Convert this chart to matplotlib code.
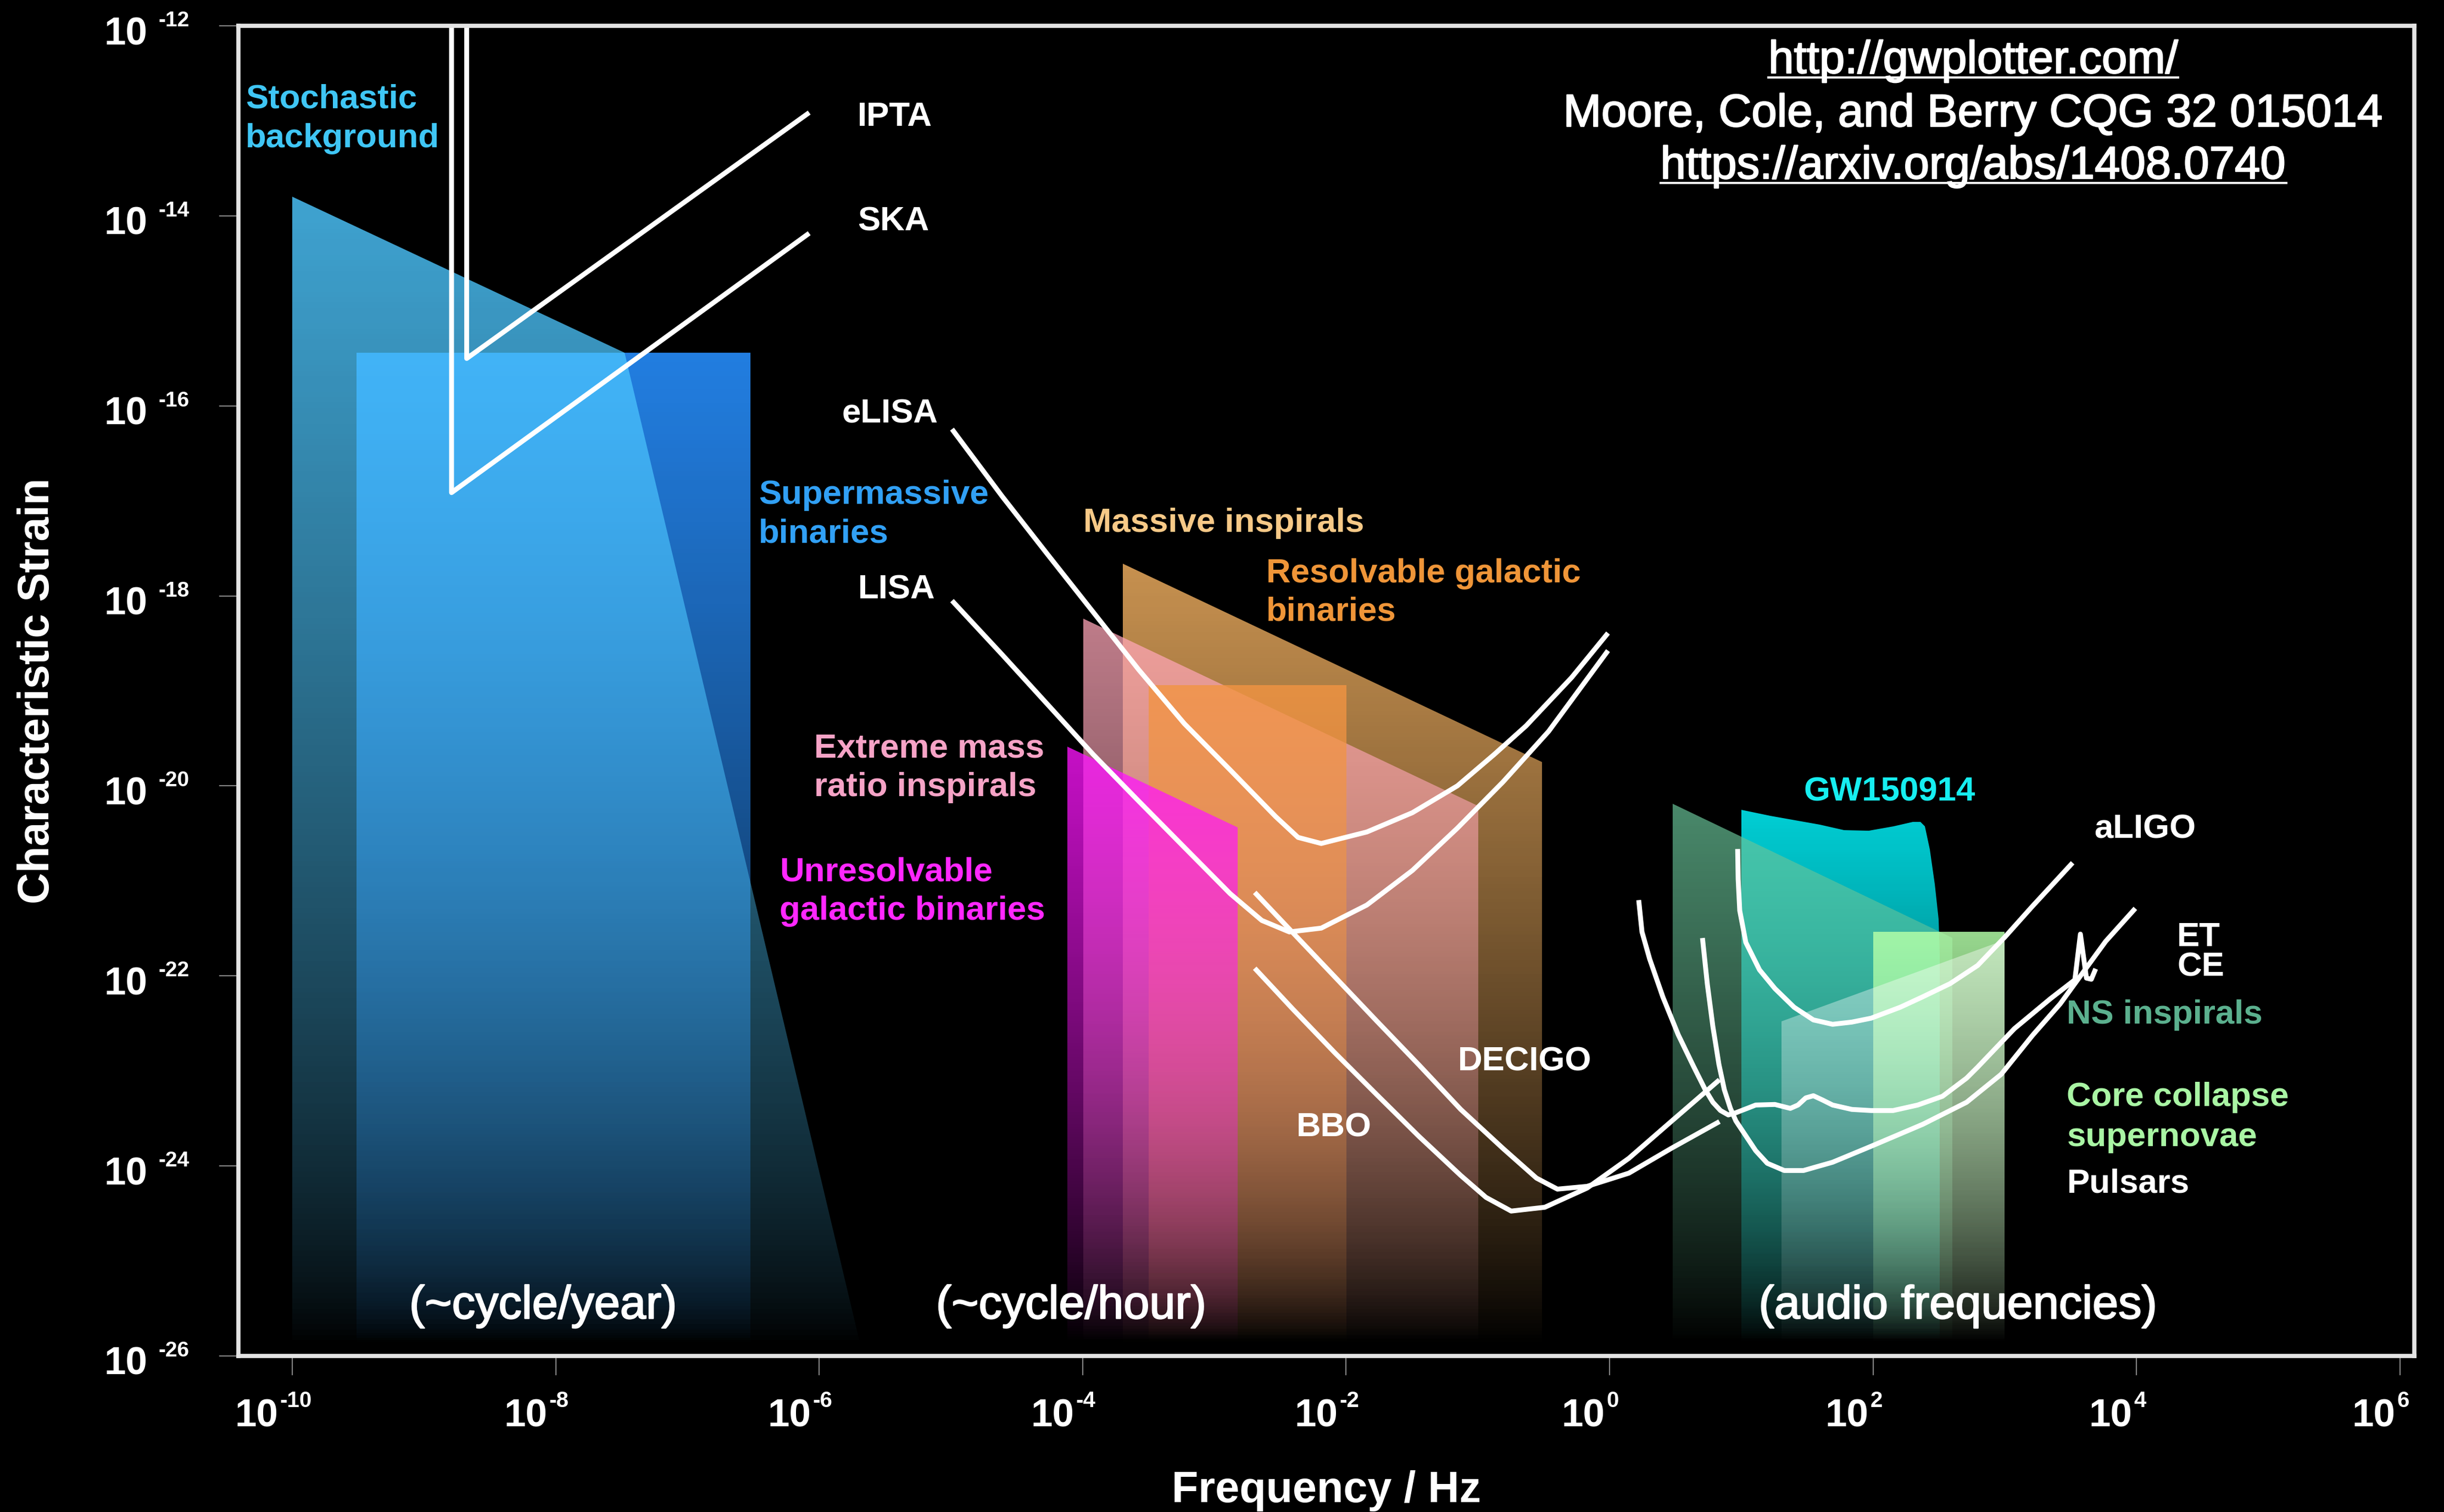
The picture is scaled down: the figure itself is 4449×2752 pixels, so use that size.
import numpy as np
import matplotlib
matplotlib.use("Agg")
import matplotlib.pyplot as plt
import matplotlib.patheffects as pe
from matplotlib.patches import Polygon
from matplotlib.colors import LinearSegmentedColormap
from matplotlib.lines import Line2D
from matplotlib.ticker import NullLocator

plt.rcParams["font.family"] = ["Liberation Sans", "DejaVu Sans"]

# ------------------------------------------------------------------
# Axis decades (log10 of frequency in Hz / characteristic strain)
# ------------------------------------------------------------------
xtick_exp = [-10, -8, -6, -4, -2, 0, 2, 4, 6]
ytick_exp = [-12, -14, -16, -18, -20, -22, -24, -26]
xlim_exp = (-10.409, 6.109)
ylim_exp = (-26.0, -12.0)
H_FLOOR = -25.85

# ------------------------------------------------------------------
# Source regions: outline vertices as (log10 f, log10 h_c)
# ------------------------------------------------------------------
stoch_logf = [-10.0, -10.0, -7.477, -5.667]
stoch_logh = [-26.0, -13.80, -15.441, -26.0]
smbh_logf = [-9.514, -9.514, -6.522, -6.522]
smbh_logh = [-26.0, -15.441, -15.441, -26.0]
massive_logf = [-3.695, -3.695, -0.513, -0.513]
massive_logh = [-26.0, -17.662, -19.750, -26.0]
emri_logf = [-3.995, -3.995, -0.997, -0.997]
emri_logh = [-26.0, -18.241, -20.213, -26.0]
resolv_logf = [-3.499, -3.499, -1.998, -1.998]
resolv_logh = [-26.0, -18.940, -18.940, -26.0]
unres_logf = [-4.116, -4.116, -2.823, -2.823]
unres_logh = [-26.0, -19.588, -20.438, -26.0]
gw150914_logf = [1.0, 1.0, 1.223, 1.595, 1.781, 1.968, 2.154, 2.302, 2.358,
                 2.395, 2.433, 2.470, 2.498, 2.507, 2.507]
gw150914_logh = [-26.0, -20.253, -20.317, -20.409, -20.467, -20.473, -20.427,
                 -20.380, -20.380, -20.427, -20.670, -21.034, -21.404, -21.774, -26.0]
ns_logf = [0.478, 0.478, 2.600, 2.600]
ns_logh = [-26.0, -20.189, -21.598, -26.0]
sn_logf = [2.0, 2.0, 3.0, 3.0]
sn_logh = [-26.0, -21.535, -21.535, -26.0]
pulsar_logf = [1.307, 1.307, 3.0, 3.0]
pulsar_logh = [-26.0, -22.476, -21.620, -26.0]

# ------------------------------------------------------------------
# Detector sensitivity curves (log10 f, log10 h_c)
# ------------------------------------------------------------------
ipta_logf = [-8.676, -8.676, -6.076]
ipta_logh = [-11.0, -15.501, -12.913]
ska_logf = [-8.791, -8.791, -6.076]
ska_logh = [-11.0, -16.913, -14.183]

elisa_logf = [-4.992, -4.612, -4.266, -3.920, -3.574, -3.228, -2.881, -2.535,
              -2.365, -2.189, -1.843, -1.497, -1.155, -0.876, -0.634, -0.288, -0.012]
elisa_logh = [-16.245, -16.951, -17.564, -18.171, -18.778, -19.345, -19.831, -20.323,
              -20.542, -20.606, -20.485, -20.282, -19.999, -19.669, -19.368, -18.859, -18.391]

lisa_logf = [-4.992, -4.612, -4.266, -3.920, -3.574, -3.228, -2.881, -2.640,
             -2.431, -2.189, -1.843, -1.497, -1.155, -0.809, -0.463, -0.012]
lisa_logh = [-18.050, -18.617, -19.143, -19.669, -20.161, -20.647, -21.133, -21.416,
             -21.537, -21.497, -21.254, -20.890, -20.444, -19.958, -19.426, -18.576]

bbo_logf = [-2.694, -2.406, -2.085, -1.768, -1.447, -1.130, -0.938, -0.747,
            -0.492, -0.171, 0.146, 0.467, 0.834]
bbo_logh = [-21.919, -22.347, -22.810, -23.249, -23.689, -24.100, -24.331, -24.475,
            -24.435, -24.233, -23.920, -23.533, -23.093]

decigo_logf = [-2.694, -2.406, -2.085, -1.768, -1.447, -1.130, -0.809, -0.555,
               -0.396, -0.171, 0.146, 0.467, 0.834]
decigo_logh = [-21.121, -21.543, -22.011, -22.474, -22.937, -23.405, -23.816, -24.128,
               -24.244, -24.215, -24.076, -23.816, -23.533]

aligo_logf = [0.972, 0.976, 0.988, 1.034, 1.138, 1.255, 1.401, 1.547, 1.693,
              1.839, 1.985, 2.206, 2.377, 2.585, 2.794, 3.002, 3.211, 3.515]
aligo_logh = [-20.664, -20.982, -21.312, -21.647, -21.936, -22.133, -22.330, -22.463,
              -22.509, -22.486, -22.445, -22.330, -22.220, -22.081, -21.890, -21.589,
              -21.265, -20.809]

et_logf = [0.221, 0.246, 0.304, 0.404, 0.521, 0.638, 0.726, 0.784, 0.842, 0.901,
           0.959, 1.109, 1.255, 1.372, 1.430, 1.489, 1.547, 1.618, 1.693, 1.839,
           1.985, 2.152, 2.339, 2.527, 2.710, 2.794, 3.073, 3.349, 3.532, 3.574,
           3.620, 3.657, 3.690]
et_logh = [-21.202, -21.537, -21.821, -22.220, -22.619, -22.954, -23.197, -23.330,
           -23.417, -23.463, -23.440, -23.359, -23.353, -23.394, -23.359, -23.284,
           -23.261, -23.307, -23.359, -23.405, -23.417, -23.417, -23.359, -23.267,
           -23.076, -22.960, -22.555, -22.237, -22.041, -21.560, -22.023, -22.035,
           -21.925]

ce_logf = [0.705, 0.742, 0.784, 0.830, 0.871, 0.917, 0.959, 1.034, 1.109, 1.197,
           1.326, 1.472, 1.693, 1.985, 2.377, 2.710, 2.973, 3.211, 3.420, 3.553,
           3.766, 3.991]
ce_logh = [-21.601, -22.087, -22.532, -22.931, -23.197, -23.394, -23.527, -23.683,
           -23.839, -23.972, -24.048, -24.048, -23.961, -23.793, -23.562, -23.330,
           -23.035, -22.625, -22.295, -22.041, -21.636, -21.289]

# ------------------------------------------------------------------
# Figure
# ------------------------------------------------------------------
DPI = 100
W_PX, H_PX = 4449, 2752
PT = 72.0 / DPI
fig = plt.figure(figsize=(W_PX / DPI, H_PX / DPI), dpi=DPI, facecolor="black")
ax = fig.add_axes([0.09755, 0.10320, 0.89031, 0.87972])
ax.set_facecolor("black")
ax.set_xscale("log")
ax.set_yscale("log")


def gradient_region(logf, logh, rgb, alpha, z, nbands=220, gamma=0.8):
    """Filled outline whose opacity fades towards the strain floor."""
    f = 10.0 ** np.asarray(logf)
    h = 10.0 ** np.asarray(logh)
    poly = Polygon(np.column_stack([f, h]), closed=True, facecolor="none",
                   edgecolor="none", zorder=z)
    ax.add_patch(poly)
    top = max(logh)
    yedges = np.logspace(min(logh), top, nbands + 1)
    mids = 0.5 * (np.log10(yedges[:-1]) + np.log10(yedges[1:]))
    frac = np.clip((mids - H_FLOOR) / (top - H_FLOOR), 0, 1) ** gamma
    xedges = np.array([f.min(), f.max()])
    cmap = LinearSegmentedColormap.from_list("fade", [(*rgb, 0.0), (*rgb, alpha)])
    mesh = ax.pcolormesh(xedges, yedges, frac[:, None], cmap=cmap, vmin=0, vmax=1,
                         shading="flat", zorder=z, antialiased=False)
    mesh.set_clip_path(poly)


# pulsar-timing band
gradient_region(smbh_logf, smbh_logh, (0.14, 0.52, 0.93), 0.95, 1.00, gamma=0.7)
gradient_region(stoch_logf, stoch_logh, (0.30, 0.78, 1.00), 0.82, 1.01, gamma=0.7)
# space-interferometer band
gradient_region(massive_logf, massive_logh, (0.92, 0.67, 0.37), 0.85, 1.02)
gradient_region(emri_logf, emri_logh, (1.00, 0.65, 0.72), 0.75, 1.03)
gradient_region(resolv_logf, resolv_logh, (0.95, 0.58, 0.26), 0.80, 1.04)
gradient_region(unres_logf, unres_logh, (1.00, 0.08, 1.00), 0.78, 1.05)
# ground-based band
gradient_region(gw150914_logf, gw150914_logh, (0.00, 0.90, 0.93), 0.90, 1.02)
gradient_region(ns_logf, ns_logh, (0.41, 0.77, 0.60), 0.70, 1.03)
gradient_region(sn_logf, sn_logh, (0.70, 1.00, 0.66), 0.85, 1.04)
gradient_region(pulsar_logf, pulsar_logh, (1.00, 1.00, 1.00), 0.42, 1.05)


def curve(logf, logh, lw=6.4):
    ax.plot(10.0 ** np.asarray(logf), 10.0 ** np.asarray(logh), color="white",
            lw=lw, solid_joinstyle="round", solid_capstyle="butt", zorder=5)


for lf, lh in [(ipta_logf, ipta_logh), (ska_logf, ska_logh),
               (elisa_logf, elisa_logh), (lisa_logf, lisa_logh),
               (bbo_logf, bbo_logh), (decigo_logf, decigo_logh),
               (aligo_logf, aligo_logh), (et_logf, et_logh), (ce_logf, ce_logh)]:
    curve(lf, lh)

# ------------------------------------------------------------------
# Axes styling
# ------------------------------------------------------------------
ax.set_xlim(10.0 ** xlim_exp[0], 10.0 ** xlim_exp[1])
ax.set_ylim(10.0 ** ylim_exp[0], 10.0 ** ylim_exp[1])
ax.set_xticks([10.0 ** e for e in xtick_exp])
ax.set_yticks([10.0 ** e for e in ytick_exp])
ax.xaxis.set_minor_locator(NullLocator())
ax.yaxis.set_minor_locator(NullLocator())
ax.tick_params(which="major", direction="out", length=25, width=1.4,
               color="#8a8a8a", labelbottom=False, labelleft=False)
for sp in ax.spines.values():
    sp.set_color("#e4e4e4")
    sp.set_linewidth(5.5)
    sp.set_zorder(8)

renderer = fig.canvas.get_renderer()


def text_width_px(s, size, weight):
    t = fig.text(0, 0, s, fontsize=size, fontweight=weight)
    w = t.get_window_extent(renderer).width
    t.remove()
    return w


TICK_BASE = 51
TICK_EXP_X = 29
TICK_EXP_Y = 28
w10 = text_width_px("10", TICK_BASE, "bold")
for e in xtick_exp:
    es = str(e)
    we = text_width_px(es, TICK_EXP_X, "bold")
    gap = 3
    left = -35 - (w10 + gap + we) / 2
    ax.annotate("10", xy=(10.0 ** e, 0), xycoords=("data", "axes fraction"),
                xytext=(left * PT, -129 * PT), textcoords="offset points",
                ha="left", va="baseline", fontsize=TICK_BASE, fontweight="bold",
                color="white", annotation_clip=False)
    ax.annotate(es, xy=(10.0 ** e, 0), xycoords=("data", "axes fraction"),
                xytext=((left + w10 + gap) * PT, -93 * PT), textcoords="offset points",
                ha="left", va="baseline", fontsize=TICK_EXP_X, fontweight="bold",
                color="white", annotation_clip=False)

for e in ytick_exp:
    ax.annotate("10", xy=(0, 10.0 ** e), xycoords=("axes fraction", "data"),
                xytext=(-244 * PT, -34 * PT), textcoords="offset points",
                ha="left", va="baseline", fontsize=TICK_BASE, fontweight="bold",
                color="white", annotation_clip=False)
    ax.annotate(str(e), xy=(0, 10.0 ** e), xycoords=("axes fraction", "data"),
                xytext=(-145 * PT, -1 * PT), textcoords="offset points",
                ha="left", va="baseline", fontsize=TICK_EXP_Y, fontweight="bold",
                color="white", annotation_clip=False)

ax.text(-0.0924, 0.5, "Characteristic Strain", transform=ax.transAxes,
        rotation=90, ha="center", va="center", rotation_mode="anchor",
        fontsize=57, fontweight="bold", color="white")
ax.text(0.5, -0.1099, "Frequency / Hz", transform=ax.transAxes, ha="center",
        va="baseline", fontsize=57, fontweight="bold", color="white")

# ------------------------------------------------------------------
# Region and detector labels
# ------------------------------------------------------------------
LBL = 44.5


def label(logf, logh, s, color):
    ax.text(10.0 ** logf, 10.0 ** logh, s, color=color, fontsize=LBL,
            fontweight="bold", ha="left", va="baseline", zorder=4)


label(-10.355, -12.866, "Stochastic", "#3fc6f5")
label(-10.355, -13.280, "background", "#3fc6f5")
label(-5.710, -13.050, "IPTA", "white")
label(-5.710, -14.156, "SKA", "white")
label(-5.827, -16.180, "eLISA", "white")
label(-5.705, -18.031, "LISA", "white")
label(-6.459, -17.030, "Supermassive", "#31a0f5")
label(-6.459, -17.438, "binaries", "#31a0f5")
label(-3.996, -17.328, "Massive inspirals", "#f7c987")
label(-2.606, -17.857, "Resolvable galactic", "#ef9538")
label(-2.606, -18.259, "binaries", "#ef9538")
label(-6.040, -19.700, "Extreme mass", "#f6a3c6")
label(-6.040, -20.108, "ratio inspirals", "#f6a3c6")
label(-6.302, -21.000, "Unresolvable", "#ff27ff")
label(-6.302, -21.407, "galactic binaries", "#ff27ff")
label(-1.150, -22.998, "DECIGO", "white")
label(-2.376, -23.692, "BBO", "white")
label(1.473, -20.158, "GW150914", "#16eef0")
label(3.680, -20.550, "aLIGO", "white")
label(4.309, -21.688, "ET", "white")
label(4.309, -22.004, "CE", "white")
label(3.471, -22.503, "NS inspirals", "#5bb08e")
label(3.471, -23.370, "Core collapse", "#a9f5a4")
label(3.471, -23.790, "supernovae", "#a9f5a4")
label(3.471, -24.280, "Pulsars", "white")

# slightly heavier regular-weight text
medium = [pe.withStroke(linewidth=1.6, foreground="white")]

for lf, s in [(-8.095, "(~cycle/year)"), (-4.087, "(~cycle/hour)"),
              (2.645, "(audio frequencies)")]:
    ax.text(10.0 ** lf, 10.0 ** -25.605, s, color="white", fontsize=61,
            ha="center", va="baseline", zorder=6, path_effects=medium)

# ------------------------------------------------------------------
# Reference block (top right)
# ------------------------------------------------------------------
credits = [("http://gwplotter.com/", 0.9645, True),
           ("Moore, Cole, and Berry CQG 32 015014", 0.9244, False),
           ("https://arxiv.org/abs/1408.0740", 0.8852, True)]
for s, yfrac, underline in credits:
    t = ax.text(0.7973, yfrac, s, transform=ax.transAxes, ha="center",
                va="baseline", fontsize=60, color="white", zorder=7,
                path_effects=medium)
    if underline:
        bb = t.get_window_extent(renderer)
        ybase = ax.transAxes.transform((0.5, yfrac))[1]
        yl = (ybase - 8) / H_PX
        fig.add_artist(Line2D([bb.x0 / W_PX, bb.x1 / W_PX], [yl, yl],
                              transform=fig.transFigure, color="white", lw=2.8))

fig.savefig("out.png", dpi=DPI, facecolor="black")
